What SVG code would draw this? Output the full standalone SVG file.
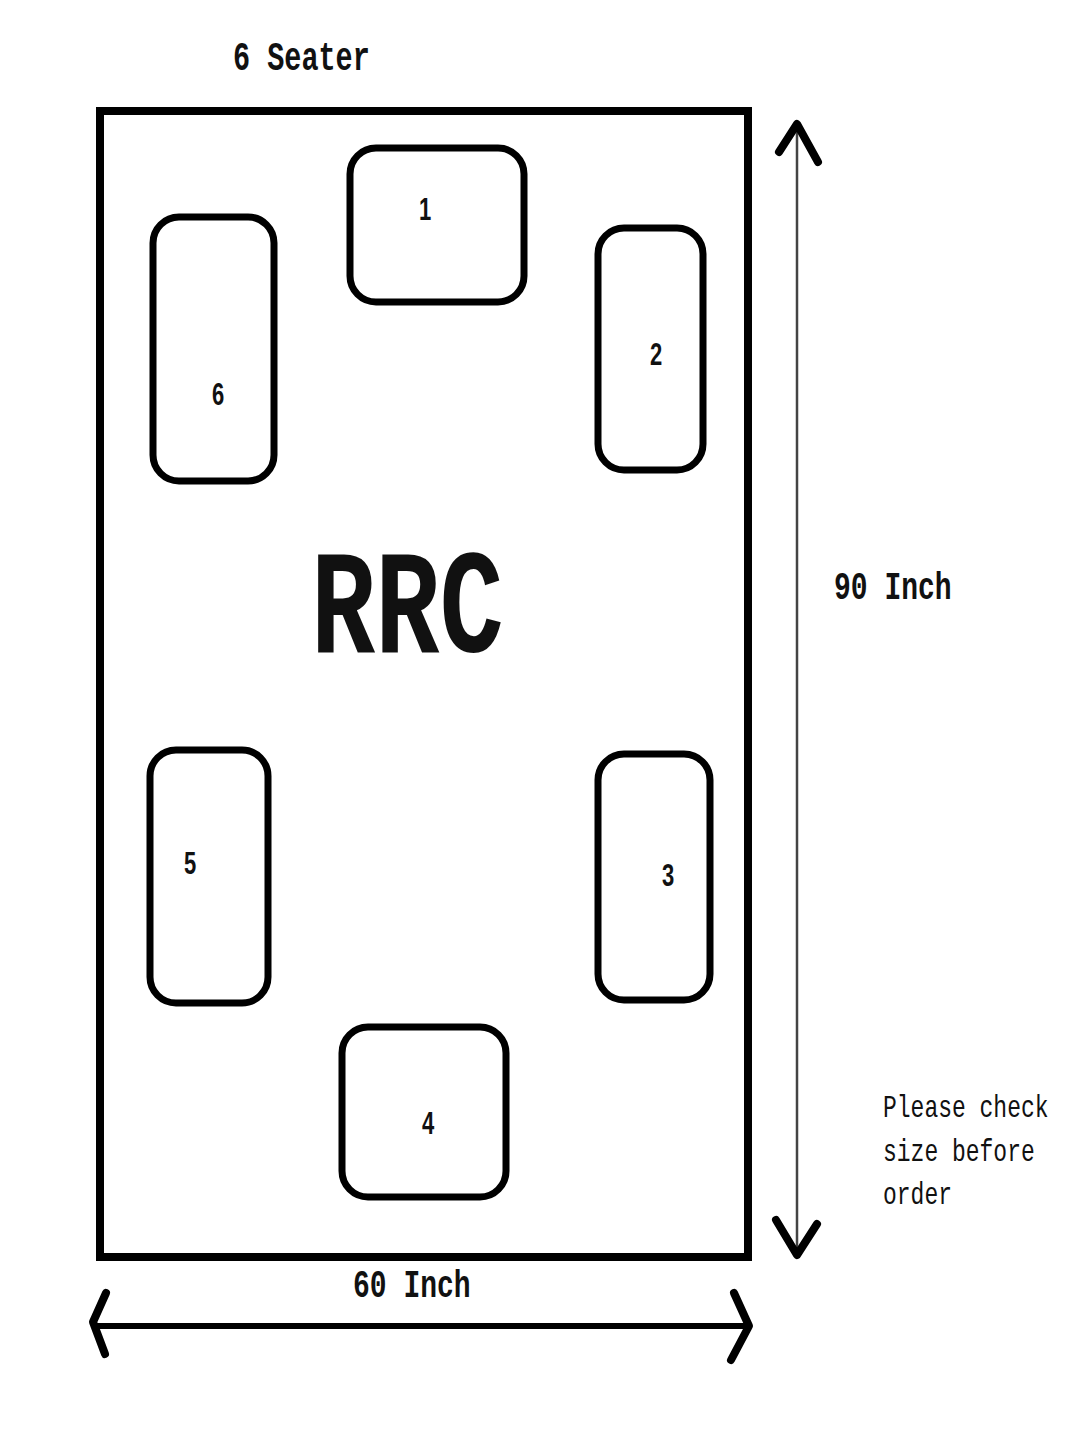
<svg xmlns="http://www.w3.org/2000/svg" width="1080" height="1440" viewBox="0 0 1080 1440">
<style>
.seat{fill:none;stroke:#000;stroke-width:7}
.mono{font-family:"Courier New","Nimbus Mono PS","FreeMono","Liberation Mono","DejaVu Sans Mono",monospace;font-weight:bold;fill:#111}
.num{font-family:"Liberation Sans","DejaVu Sans",sans-serif;font-weight:bold;font-size:22px;fill:#111;text-anchor:middle}
.chev{fill:none;stroke:#000;stroke-width:8;stroke-linecap:round;stroke-linejoin:round}
</style>
<rect width="1080" height="1440" fill="#fff"/>
<text class="mono" font-size="28.5" transform="translate(233,70) scale(1,1.45)">6 Seater</text>
<g id="table">
<rect x="100" y="111" width="648" height="1146" fill="none" stroke="#000" stroke-width="8"/>
<text class="mono" font-size="107" transform="translate(311,652) scale(1,1.38)">RRC</text>
</g>
<g id="seat1"><rect class="seat" x="350" y="148" width="174" height="154" rx="26"/><text class="num" transform="translate(425,220) scale(1,1.4)">1</text></g>
<g id="seat2"><rect class="seat" x="598" y="228" width="105" height="242" rx="26"/><text class="num" transform="translate(656,365) scale(1,1.4)">2</text></g>
<g id="seat3"><rect class="seat" x="598" y="754" width="112" height="246" rx="26"/><text class="num" transform="translate(668,886) scale(1,1.4)">3</text></g>
<g id="seat4"><rect class="seat" x="342" y="1027" width="164" height="170" rx="26"/><text class="num" transform="translate(428,1134) scale(1,1.4)">4</text></g>
<g id="seat5"><rect class="seat" x="150" y="750" width="118" height="253" rx="26"/><text class="num" transform="translate(190,874) scale(1,1.4)">5</text></g>
<g id="seat6"><rect class="seat" x="153" y="217" width="121" height="264" rx="26"/><text class="num" transform="translate(218,405) scale(1,1.4)">6</text></g>
<g id="connectors">
<line x1="797" y1="124" x2="797" y2="1254" stroke="#444" stroke-width="2.5"/>
<polyline class="chev" points="779,152 797,124 818,162"/>
<polyline class="chev" points="776,1220 797,1255 817,1224"/>
<line x1="93" y1="1326" x2="748" y2="1326" stroke="#000" stroke-width="6"/>
<polyline class="chev" points="106,1293 93,1322 105,1354"/>
<polyline class="chev" points="734,1293 749,1326 731,1360"/>
</g>
<text class="mono" font-size="28" transform="translate(834,599) scale(1,1.4)">90 Inch</text>
<text class="mono" font-size="28" transform="translate(353,1297) scale(1,1.4)">60 Inch</text>
<g class="mono" font-size="23" style="font-weight:normal">
<text transform="translate(883,1117) scale(1,1.4)">Please check</text>
<text transform="translate(883,1161) scale(1,1.4)">size before</text>
<text transform="translate(883,1204) scale(1,1.4)">order</text>
</g>
</svg>
